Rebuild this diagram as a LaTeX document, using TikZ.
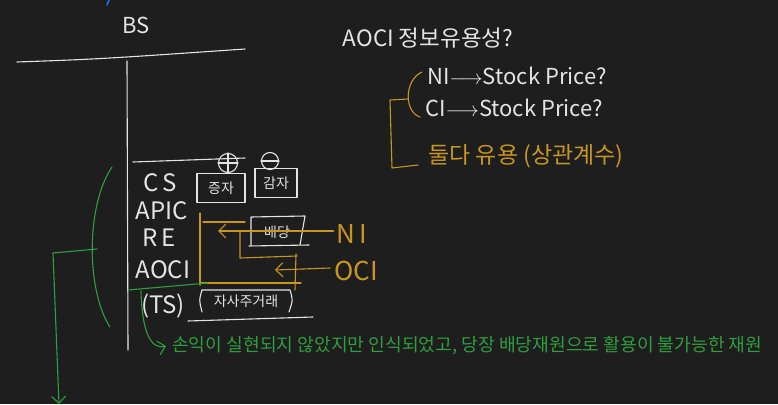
\documentclass[tikz,border=0pt]{standalone}
\usepackage{fontspec}
\setmainfont{Noto Sans CJK KR}
\usetikzlibrary{arrows.meta}
\definecolor{bg}{HTML}{1E1E1E}
\definecolor{chalk}{HTML}{E4E4E4}
\definecolor{gold}{HTML}{C8961E}
\definecolor{grn}{HTML}{2E9E3E}
\definecolor{pen}{HTML}{1E6FE0}
\begin{document}
\begin{tikzpicture}[x=1pt,y=-1pt,
  wline/.style={draw=chalk,line width=1.1pt,line cap=round,line join=round},
  oline/.style={draw=gold,line width=1.1pt,line cap=round,line join=round},
  gline/.style={draw=grn,line width=1.1pt,line cap=round,line join=round},
  barb/.style={-{Straight Barb[length=7pt,width=14pt]}},
  wlbl/.style={text=chalk,inner sep=0pt,font=\fontsize{22}{26}\selectfont},
  eqlbl/.style={text=chalk,inner sep=0pt,font=\fontsize{24}{28}\selectfont},
  olbl/.style={text=gold,inner sep=0pt,font=\fontsize{23}{27}\selectfont},
  glbl/.style={text=grn,inner sep=0pt,font=\fontsize{18.2}{22}\selectfont},
  boxlbl/.style={text=chalk,inner sep=0pt,font=\fontsize{14}{16}\selectfont},
  hbox/.style={wline,draw,inner sep=0pt,minimum height=29pt}
]
\fill[bg] (0,0) rectangle (778,404);
\useasboundingbox (0,0) rectangle (778,404);

% small blue pen mark
\draw[draw=pen,line width=1.6pt,line cap=round] (109,0) -- (107,5);

% T-account
\node[wlbl] (bs) at (136,25) {BS};
\coordinate (tl) at (17,62);
\coordinate (tr) at (245,49);
\draw[wline] (tl) .. controls (100,59) .. (tr);
\coordinate (vt) at (127,61);
\coordinate (vb) at (128,350);
\draw[wline] (vt) -- (vb);
\coordinate (et1) at (133,162);
\coordinate (et2) at (245,158);
\draw[wline] (et1) -- (et2);

% equity items
\node[eqlbl] (cs) at (160,183) {C\,S};
\node[eqlbl] (apic) at (162,211) {APIC};
\node[eqlbl] (re) at (159,238) {R\,E};
\node[eqlbl] (aoci) at (163,270) {AOCI};
\node[eqlbl] (ts) at (163,306) {(TS)};

% increase / decrease boxes
\node[hbox,minimum width=48pt,boxlbl] (inc) at (221,188) {증자};
\node[hbox,minimum width=42pt,boxlbl] (dec) at (276,183) {감자};
\node[wline,draw,circle,minimum size=19pt,inner sep=0pt] (plus) at (228,163) {};
\draw[wline] (plus.north) -- (plus.south) (plus.west) -- (plus.east);
\node[wline,draw,circle,minimum size=17pt,inner sep=0pt] (minus) at (270,161) {};
\draw[wline] (minus.west) -- (minus.east);

% dividend box (slanted)
\coordinate (d1) at (251,217);
\coordinate (d2) at (305,216);
\coordinate (d3) at (300,245);
\coordinate (d4) at (251,245);
\draw[wline] (d4) -- (d1) -- (d2) -- (d3);
\draw[wline] (249,246) -- (309,245);
\node[boxlbl] (div) at (277,232) {배당};

% treasury stock box
\node[boxlbl] (tsx) at (246,301) {자사주거래};
\draw[wline] (202,290) .. controls (199,300) .. (202,312);
\draw[wline] (202,290) -- (290,290) .. controls (293,300) .. (289,312);
\draw[wline] (188,321) -- (313,317);

% orange flows
\node[olbl,font=\fontsize{26}{30}\selectfont] (ni) at (352,234) {N\,I};
\node[olbl,font=\fontsize{26}{30}\selectfont] (oci) at (356,271) {OCI};
\coordinate (ob1) at (200,213);
\coordinate (ob2) at (200,285);
\draw[oline] (ob1) -- (ob2);
\draw[oline] (203,222) -- (245,222);
\draw[oline] (200,283) -- (301,283);
\coordinate (nitip) at (218,231);
\draw[oline,barb] (ni.west) ++(-3,-3) -- (nitip);
\draw[oline] (240,231) -- (240,258) -- (297,256);
\draw[oline] (296,254) -- (295,290);
\coordinate (ocitip) at (275,270);
\draw[oline,barb] (oci.west) ++(-4,-3) -- (ocitip);

% green notes
\draw[gline] (112,167) .. controls (86,205) and (86,290) .. (110,327);
\coordinate (gh) at (53,253);
\draw[gline] (97,249) -- (gh);
\coordinate (gend) at (59,404);
\draw[gline,barb] (gh) -- (gend);
\draw[gline] (128,290) -- (208,283);
\node[glbl,anchor=west] (note) at (172,346) {손익이 실현되지 않았지만 인식되었고, 당장 배당재원으로 활용이 불가능한 재원};
\draw[gline,barb] (141,291) .. controls (142,330) and (150,350) .. ([xshift=-6pt]note.west);

% top right question
\node[wlbl,font=\fontsize{22.5}{27}\selectfont] (q) at (428,38) {AOCI 정보유용성?};
\node[wlbl,anchor=west] (q1) at (427,76) {NI$\longrightarrow$Stock Price?};
\node[wlbl,anchor=west] (q2) at (425,108) {CI$\longrightarrow$Stock Price?};
\draw[oline] (422,72) .. controls (404,80) and (404,112) .. (420,117);
\coordinate (bm) at (408,99);
\coordinate (bl) at (390,100);
\coordinate (bb) at (392,168);
\coordinate (be) at (418,165);
\draw[oline] (bm) -- (bl) -- (bb) -- (be);
\node[olbl] (ans) at (526,156) {둘다 유용 (상관계수)};
\end{tikzpicture}
\end{document}
